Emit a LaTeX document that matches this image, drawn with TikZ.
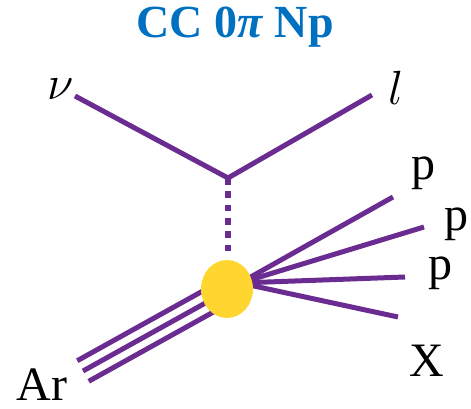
\RequirePackage{fix-cm}
\documentclass[tikz,border=0pt]{standalone}
\usepackage{fontspec}
\setmainfont{Liberation Serif}
\usetikzlibrary{shapes.geometric,backgrounds}
\definecolor{ppl}{HTML}{6A2C91}
\definecolor{gold}{HTML}{FFD52F}
\definecolor{ttl}{HTML}{0070C0}
\begin{document}
\begin{tikzpicture}[x=0.75pt,y=-0.75pt,
  particle/.style={draw=ppl,line width=3.75pt,line cap=butt},
  boson/.style={draw=ppl,line width=4.9pt,line cap=butt,dash pattern=on 4.9pt off 5.1pt},
  lbl/.style={font=\fontsize{36}{40}\selectfont,anchor=base,inner sep=0pt,text=black},
  blobstyle/.style={ellipse,fill=gold,draw=none,inner sep=0pt,minimum width=39pt,minimum height=43.5pt}]
\useasboundingbox (0,0) rectangle (471,409);
% title
\node[anchor=base,inner sep=0pt,text=ttl,font=\fontsize{34.5}{40}\selectfont\bfseries] (title) at (235,38) {CC 0\textit{π} Np};
% labels
\node[lbl] (nu) at (61,100) {$\nu$};
\node[lbl] (lep) at (396,105) {$l$};
\node[lbl] (p1) at (423,180) {p};
\node[lbl] (p2) at (456,231) {p};
\node[lbl] (p3) at (440,280) {p};
\node[lbl] (xx) at (427,377) {X};
\node[lbl] (ar) at (42,401) {Ar};
% interaction blob
\node[blobstyle] (blob) at (227,289) {};
% coordinates
\coordinate (nuEnd) at (75,96);
\coordinate (vtx) at (228,178);
\coordinate (lEnd) at (372,95);
\coordinate (bosEnd) at (228,254);
\coordinate (hub) at (240,283);
\coordinate (arEnd) at (83,371);
\coordinate (arIn) at (227,291);
\coordinate (p1End) at (393,197);
\coordinate (p2End) at (424,227);
\coordinate (p3End) at (405,277);
\coordinate (xEnd) at (398,317);
\begin{scope}[on background layer]
\draw[particle,line join=miter] (nuEnd) -- (vtx) -- (lEnd);
\draw[boson] (vtx) -- (bosEnd);
\draw[particle] ([shift={(-5.7,-10.3)}]arEnd) -- ([shift={(-5.7,-10.3)}]arIn);
\draw[particle] (arEnd) -- (arIn);
\draw[particle] ([shift={(5.7,10.3)}]arEnd) -- ([shift={(5.7,10.3)}]arIn);
\draw[particle] (hub) -- (p1End);
\draw[particle] (hub) -- (p2End);
\draw[particle] (hub) -- (p3End);
\draw[particle] (hub) -- (xEnd);
\end{scope}
\end{tikzpicture}
\end{document}
